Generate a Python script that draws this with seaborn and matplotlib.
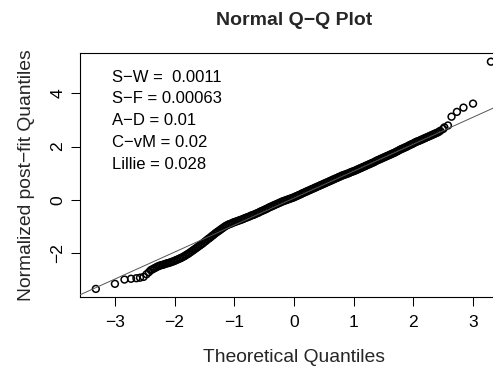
import matplotlib
matplotlib.use("Agg")
import matplotlib.pyplot as plt
import seaborn as sns
import pandas as pd

# ---- data ----
# lower tail (isolated circles)
low_theoretical = [-3.32, -3.00, -2.84, -2.73, -2.64, -2.58, -2.52, -2.47, -2.43]
low_sample = [-3.33, -3.14, -2.98, -2.95, -2.93, -2.91, -2.88, -2.78, -2.70]

# dense central band
band_theoretical = [
    -2.400, -2.375, -2.350, -2.325, -2.300, -2.275, -2.250, -2.225,
    -2.200, -2.175, -2.150, -2.125, -2.100, -2.075, -2.050, -2.025,
    -2.000, -1.975, -1.950, -1.925, -1.900, -1.875, -1.850, -1.825,
    -1.800, -1.775, -1.750, -1.725, -1.700, -1.675, -1.650, -1.625,
    -1.600, -1.575, -1.550, -1.525, -1.500, -1.475, -1.450, -1.425,
    -1.400, -1.375, -1.350, -1.325, -1.300, -1.275, -1.250, -1.225,
    -1.200, -1.175, -1.150, -1.125, -1.100, -1.075, -1.050, -1.025,
    -1.000, -0.975, -0.950, -0.925, -0.900, -0.875, -0.850, -0.825,
    -0.800, -0.775, -0.750, -0.725, -0.700, -0.675, -0.650, -0.625,
    -0.600, -0.575, -0.550, -0.525, -0.500, -0.475, -0.450, -0.425,
    -0.400, -0.375, -0.350, -0.325, -0.300, -0.275, -0.250, -0.225,
    -0.200, -0.175, -0.150, -0.125, -0.100, -0.075, -0.050, -0.025,
    0.000, 0.025, 0.050, 0.075, 0.100, 0.125, 0.150, 0.175,
    0.200, 0.225, 0.250, 0.275, 0.300, 0.325, 0.350, 0.375,
    0.400, 0.425, 0.450, 0.475, 0.500, 0.525, 0.550, 0.575,
    0.600, 0.625, 0.650, 0.675, 0.700, 0.725, 0.750, 0.775,
    0.800, 0.825, 0.850, 0.875, 0.900, 0.925, 0.950, 0.975,
    1.000, 1.025, 1.050, 1.075, 1.100, 1.125, 1.150, 1.175,
    1.200, 1.225, 1.250, 1.275, 1.300, 1.325, 1.350, 1.375,
    1.400, 1.425, 1.450, 1.475, 1.500, 1.525, 1.550, 1.575,
    1.600, 1.625, 1.650, 1.675, 1.700, 1.725, 1.750, 1.775,
    1.800, 1.825, 1.850, 1.875, 1.900, 1.925, 1.950, 1.975,
    2.000, 2.025, 2.050, 2.075, 2.100, 2.125, 2.150, 2.175,
    2.200, 2.225, 2.250, 2.275, 2.300, 2.325, 2.350, 2.375,
    2.400, 2.425, 2.450]
band_sample = [
    -2.63, -2.60, -2.57, -2.54, -2.51, -2.48, -2.46, -2.44,
    -2.43, -2.41, -2.39, -2.37, -2.36, -2.34, -2.32, -2.30,
    -2.28, -2.25, -2.23, -2.20, -2.18, -2.15, -2.12, -2.09,
    -2.05, -2.02, -1.98, -1.94, -1.90, -1.86, -1.82, -1.78,
    -1.74, -1.70, -1.66, -1.62, -1.57, -1.53, -1.48, -1.44,
    -1.40, -1.35, -1.31, -1.26, -1.22, -1.18, -1.14, -1.10,
    -1.06, -1.02, -0.98, -0.95, -0.92, -0.90, -0.88, -0.85,
    -0.83, -0.81, -0.79, -0.77, -0.75, -0.73, -0.71, -0.68,
    -0.66, -0.64, -0.62, -0.59, -0.57, -0.55, -0.53, -0.50,
    -0.48, -0.45, -0.42, -0.40, -0.37, -0.35, -0.32, -0.29,
    -0.26, -0.24, -0.21, -0.19, -0.16, -0.14, -0.11, -0.09,
    -0.06, -0.04, -0.02, 0.00, 0.02, 0.04, 0.06, 0.08,
    0.10, 0.13, 0.15, 0.18, 0.20, 0.23, 0.26, 0.28,
    0.31, 0.33, 0.36, 0.38, 0.41, 0.43, 0.46, 0.48,
    0.51, 0.53, 0.56, 0.58, 0.61, 0.63, 0.66, 0.68,
    0.71, 0.73, 0.76, 0.78, 0.81, 0.83, 0.86, 0.88,
    0.91, 0.93, 0.95, 0.97, 0.99, 1.01, 1.04, 1.06,
    1.08, 1.10, 1.13, 1.15, 1.18, 1.20, 1.23, 1.25,
    1.28, 1.30, 1.33, 1.35, 1.38, 1.40, 1.43, 1.46,
    1.49, 1.51, 1.54, 1.56, 1.59, 1.61, 1.64, 1.66,
    1.69, 1.71, 1.74, 1.76, 1.79, 1.82, 1.85, 1.88,
    1.91, 1.93, 1.96, 1.98, 2.01, 2.04, 2.07, 2.09,
    2.12, 2.15, 2.18, 2.20, 2.22, 2.25, 2.27, 2.30,
    2.32, 2.35, 2.37, 2.40, 2.42, 2.45, 2.47, 2.50,
    2.52, 2.55, 2.59]

# upper tail (isolated circles)
high_theoretical = [2.50, 2.52, 2.58, 2.64, 2.73, 2.84, 3.00, 3.30]
high_sample = [2.66, 2.72, 2.79, 3.12, 3.30, 3.46, 3.61, 5.18]

# reference line (qqline)
line_intercept = 0.07
line_slope = 1.01

x_ticks = [-3, -2, -1, 0, 1, 2, 3]
y_ticks = [-2, 0, 2, 4]
stat_labels = ["S\u2212W =  0.0011", "S\u2212F = 0.00063", "A\u2212D = 0.01",
               "C\u2212vM = 0.02", "Lillie = 0.028"]

title = "Normal Q\u2212Q Plot"
x_label = "Theoretical Quantiles"
y_label = "Normalized post\u2212fit Quantiles"

assert len(band_theoretical) == len(band_sample)
assert len(low_theoretical) == len(low_sample)
assert len(high_theoretical) == len(high_sample)
df = pd.DataFrame({
    "theoretical": low_theoretical + band_theoretical + high_theoretical,
    "sample": low_sample + band_sample + high_sample,
})

# ---- styling ----
sns.set_theme(style="ticks")
plt.rcParams["font.family"] = ["Liberation Sans", "DejaVu Sans"]
plt.rcParams["axes.unicode_minus"] = True

fig = plt.figure(figsize=(4.93, 3.70), dpi=100)
ax = fig.add_axes([0.1623, 0.1973, 0.868, 0.6595])

sns.scatterplot(data=df, x="theoretical", y="sample", ax=ax, marker="o",
                s=24, facecolor="none", edgecolor="black", linewidth=1.1,
                legend=False, zorder=3)
ax.axline((0, line_intercept), slope=line_slope, color="#555555", lw=0.7, zorder=4)

ax.set_xlim(-3.585, 3.585)
ax.set_ylim(-3.633, 5.506)
ax.set_xticks(x_ticks)
ax.set_yticks(y_ticks)
ax.set_xticklabels([f"{v}".replace("-", "\u2212") for v in x_ticks])
ax.set_yticklabels([f"{v}".replace("-", "\u2212") for v in y_ticks],
                   rotation=90, va="center")

for s in ax.spines.values():
    s.set_color("black")
    s.set_linewidth(0.8)

ax.tick_params(axis="x", length=6.2, width=0.75, pad=6.5, labelsize=12.6, colors="black")
ax.tick_params(axis="y", length=6.2, width=0.75, pad=4.3, labelsize=12.6, colors="black")

ax.set_title(title, fontsize=14, fontweight="bold", pad=20)
ax.set_xlabel(x_label, fontsize=13.9)
ax.xaxis.set_label_coords(0.5, -0.266)
ax.xaxis.label.set_va("baseline")
ax.set_ylabel(y_label, fontsize=13.9)
ax.yaxis.set_label_coords(-0.1145, 0.5)
ax.yaxis.label.set_va("baseline")

baselines = [0.883, 0.793, 0.703, 0.613, 0.525]
for lab, yb in zip(stat_labels, baselines):
    ax.text(0.074, yb, lab, transform=ax.transAxes, fontsize=12,
            va="baseline", ha="left", color="black")

fig.savefig("out.png", dpi=100)
